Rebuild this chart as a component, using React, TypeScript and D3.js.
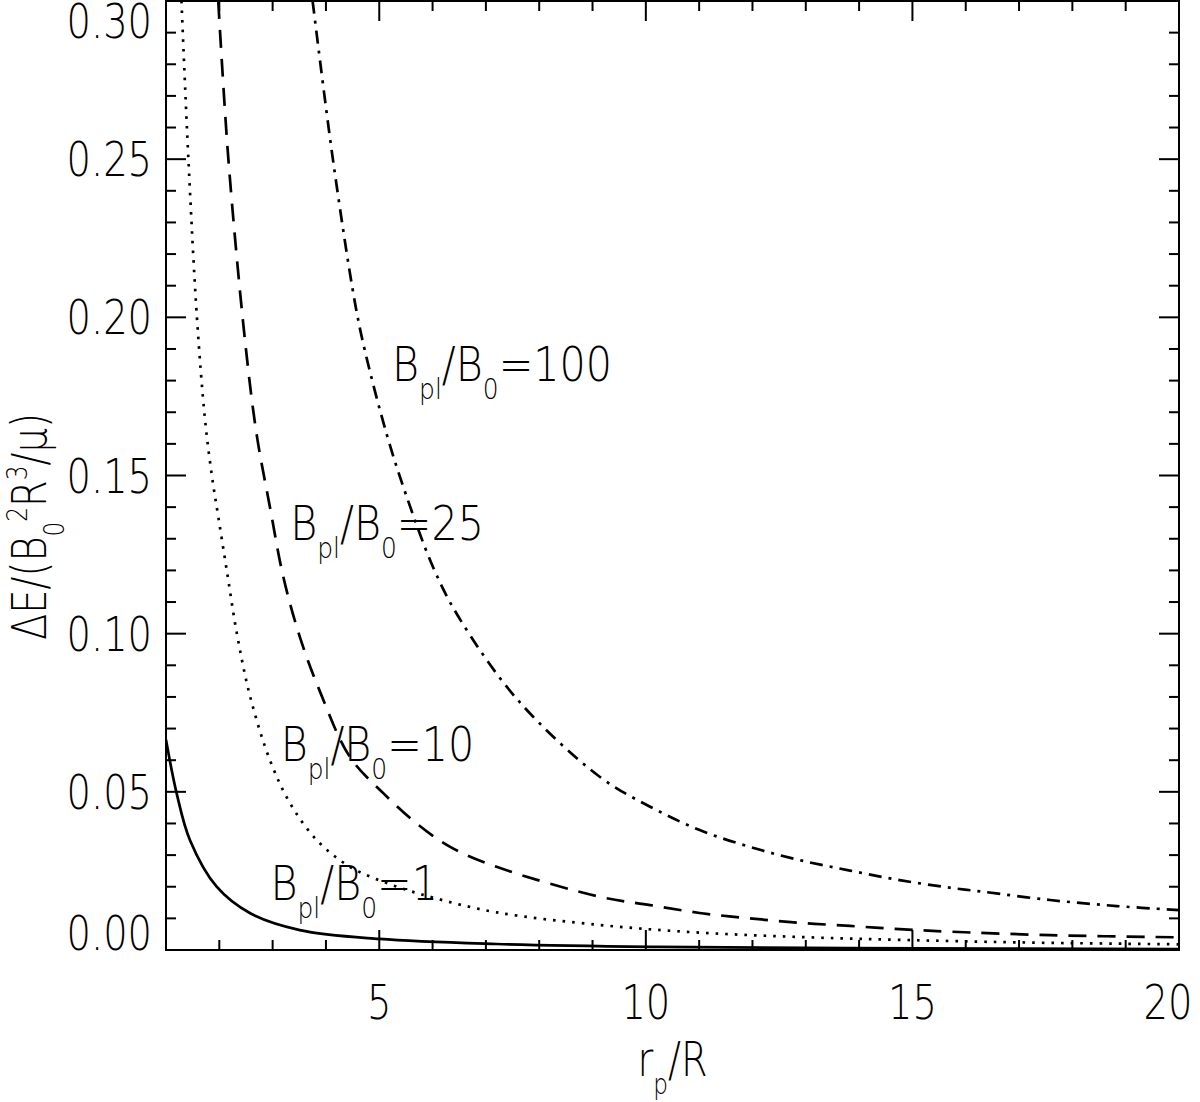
import * as d3 from 'd3';

const WIDTH = 1200;
const HEIGHT = 1102;
const margin = { top: 1, right: 21, bottom: 152, left: 166 };

const FONT = "'DejaVu Sans', 'Noto Sans', sans-serif";
const FONT_SIZE = 48;
const SUB_SIZE = 29;
const SX = 0.8; // narrow, vector-font look

const X_DOMAIN: [number, number] = [1, 20];
const Y_DOMAIN: [number, number] = [0, 0.3];
const X_TICKS = [5, 10, 15, 20];
const Y_TICKS = [0, 0.05, 0.1, 0.15, 0.2, 0.25, 0.3];

// Bpl/B0 = 1 (solid)
const ratio1: [number, number][] = [
    [1.0, 0.0665], [1.2, 0.0495], [1.45, 0.0347], [1.95, 0.02], [2.58, 0.0116],
    [3.51, 0.0063], [5.0, 0.0035], [7.2, 0.0019], [10.1, 0.001], [13.8, 0.0006],
    [20, 0.0003],
];
// Bpl/B0 = 10 (dotted)
const ratio10: [number, number][] = [
    [1.29, 0.3], [1.42, 0.25], [1.58, 0.2], [1.73, 0.168], [1.86, 0.15],
    [1.98, 0.137], [2.14, 0.12], [2.33, 0.1], [2.58, 0.08], [2.95, 0.06],
    [3.33, 0.0463], [3.83, 0.0347], [4.45, 0.0263], [5.2, 0.0208], [6.0, 0.0166],
    [7.2, 0.0119], [9.14, 0.0079], [11.0, 0.0055], [12.9, 0.0041], [14.8, 0.0032],
    [17.0, 0.0024], [20, 0.0018],
];
// Bpl/B0 = 25 (dashed)
const ratio25: [number, number][] = [
    [1.98, 0.3], [2.17, 0.25], [2.48, 0.193], [2.7, 0.163], [2.95, 0.14],
    [3.2, 0.118], [3.51, 0.099], [3.89, 0.0816], [4.45, 0.061], [5.08, 0.0495],
    [5.7, 0.04], [6.33, 0.0326], [7.2, 0.0263], [9.14, 0.0168], [10.08, 0.0142],
    [11.01, 0.0117], [11.95, 0.01], [12.89, 0.0086], [13.83, 0.0076], [14.76, 0.0066],
    [15.7, 0.0058], [17.58, 0.0047], [20, 0.004],
];
// Bpl/B0 = 100 (dash-dot)
const ratio100: [number, number][] = [
    [3.75, 0.3], [4.13, 0.25], [4.54, 0.205], [4.73, 0.1895], [5.14, 0.163],
    [5.5, 0.144], [6.01, 0.121], [6.48, 0.1055], [7.6, 0.079], [9.14, 0.0547],
    [10.08, 0.0453], [11.01, 0.0379], [11.95, 0.0326], [12.89, 0.0284],
    [13.83, 0.0251], [14.76, 0.0221], [15.7, 0.0197], [16.33, 0.0184],
    [17.58, 0.0158], [18.83, 0.0139], [20, 0.0126],
];

const series = [
    { key: 'b1', points: ratio1, dash: undefined as string | undefined },
    { key: 'b10', points: ratio10, dash: '2.6 7' },
    { key: 'b25', points: ratio25, dash: '18 11' },
    { key: 'b100', points: ratio100, dash: '13 7 3 7' },
];

type Part = { t: string; sub?: boolean; sup?: boolean };

const bLabel = (v: string): Part[] => [
    { t: 'B' }, { t: 'pl', sub: true }, { t: '/B' }, { t: '0', sub: true }, { t: '=' + v },
];

// label anchor (left edge, baseline) in data units
const annotations = [
    { parts: bLabel('100'), x: 5.24, y: 0.18 },
    { parts: bLabel('25'), x: 3.33, y: 0.1295 },
    { parts: bLabel('10'), x: 3.15, y: 0.0597 },
    { parts: bLabel('1'), x: 2.96, y: 0.0158 },
];

const yTitle: Part[] = [
    { t: 'ΔE/(B' }, { t: '0', sub: true }, { t: '2', sup: true }, { t: 'R' },
    { t: '3', sup: true }, { t: '/μ)' },
];
const xTitle: Part[] = [{ t: 'r' }, { t: 'p', sub: true }, { t: '/R' }];

function Rich(props: {
    parts: Part[];
    x: number;
    y: number;
    anchor?: 'start' | 'middle' | 'end';
    rotate?: boolean;
    sx?: number;
}) {
    const { parts, x, y, anchor = 'start', rotate, sx = SX } = props;
    let cur = 0;
    return (
        <g transform={`translate(${x},${y})${rotate ? ' rotate(-90)' : ''} scale(${sx},1)`}>
            <text
                textAnchor={anchor}
                fontFamily={FONT}
                fontWeight={200}
                fontSize={FONT_SIZE}
                fill="#000"
            >
                {parts.map((p, i) => {
                    const target = p.sub ? 18 : p.sup ? -19 : 0;
                    const dy = target - cur;
                    cur = target;
                    return (
                        <tspan
                            key={i}
                            dy={dy}
                            fontSize={p.sub || p.sup ? SUB_SIZE : FONT_SIZE}
                        >
                            {p.t}
                        </tspan>
                    );
                })}
            </text>
        </g>
    );
}

export default function App() {
    const x0 = margin.left;
    const x1 = WIDTH - margin.right;
    const y0 = HEIGHT - margin.bottom;
    const y1 = margin.top;

    const xScale = d3.scaleLinear().domain(X_DOMAIN).range([x0, x1]);
    const yScale = d3.scaleLinear().domain(Y_DOMAIN).range([y0, y1]);

    const line = d3
        .line<[number, number]>()
        .x((d) => xScale(d[0]))
        .y((d) => yScale(d[1]))
        .curve(d3.curveCatmullRom.alpha(0.5));

    const xMinor = d3.range(2, 20).filter((v) => !X_TICKS.includes(v));
    const yMinor = d3.range(1, 30).filter((v) => v % 5 !== 0).map((v) => v / 100);
    const fmt = d3.format('.2f');

    const MAJOR = 20;
    const MINOR = 10;

    return (
        <svg
            width={WIDTH}
            height={HEIGHT}
            viewBox={`0 0 ${WIDTH} ${HEIGHT}`}
            style={{ position: 'absolute', left: 0, top: 0, background: '#fff' }}
        >
            <defs>
                <clipPath id="plot">
                    <rect x={x0} y={y1} width={x1 - x0} height={y0 - y1} />
                </clipPath>
            </defs>

            <g clipPath="url(#plot)" fill="none" stroke="#000" strokeWidth={2.7}>
                {series.map((s) => (
                    <path key={s.key} d={line(s.points) || ''} strokeDasharray={s.dash} />
                ))}
            </g>

            <g stroke="#000" strokeWidth={2}>
                <rect x={x0} y={y1} width={x1 - x0} height={y0 - y1} fill="none" />
                {X_TICKS.map((v) => (
                    <g key={`xM${v}`}>
                        <line x1={xScale(v)} x2={xScale(v)} y1={y0} y2={y0 - MAJOR} />
                        <line x1={xScale(v)} x2={xScale(v)} y1={y1} y2={y1 + MAJOR} />
                    </g>
                ))}
                {xMinor.map((v) => (
                    <g key={`xm${v}`}>
                        <line x1={xScale(v)} x2={xScale(v)} y1={y0} y2={y0 - MINOR} />
                        <line x1={xScale(v)} x2={xScale(v)} y1={y1} y2={y1 + MINOR} />
                    </g>
                ))}
                {Y_TICKS.map((v) => (
                    <g key={`yM${v}`}>
                        <line x1={x0} x2={x0 + MAJOR} y1={yScale(v)} y2={yScale(v)} />
                        <line x1={x1} x2={x1 - MAJOR} y1={yScale(v)} y2={yScale(v)} />
                    </g>
                ))}
                {yMinor.map((v) => (
                    <g key={`ym${v}`}>
                        <line x1={x0} x2={x0 + MINOR} y1={yScale(v)} y2={yScale(v)} />
                        <line x1={x1} x2={x1 - MINOR} y1={yScale(v)} y2={yScale(v)} />
                    </g>
                ))}
            </g>

            {X_TICKS.map((v) => (
                <Rich
                    key={`xl${v}`}
                    parts={[{ t: String(v) }]}
                    x={Math.min(xScale(v), 1168)}
                    y={y0 + 69}
                    anchor="middle"
                />
            ))}
            {Y_TICKS.map((v, i) => {
                const base =
                    i === 0 ? yScale(v) : i === Y_TICKS.length - 1 ? yScale(v) + 37 : yScale(v) + 17;
                return <Rich key={`yl${v}`} parts={[{ t: fmt(v) }]} x={152} y={base} anchor="end" />;
            })}

            <Rich parts={xTitle} x={(x0 + x1) / 2} y={y0 + 126} anchor="middle" />
            <Rich parts={yTitle} x={46} y={640} rotate />

            {annotations.map((a, i) => (
                <Rich key={i} parts={a.parts} x={xScale(a.x)} y={yScale(a.y)} sx={0.86} />
            ))}
        </svg>
    );
}
